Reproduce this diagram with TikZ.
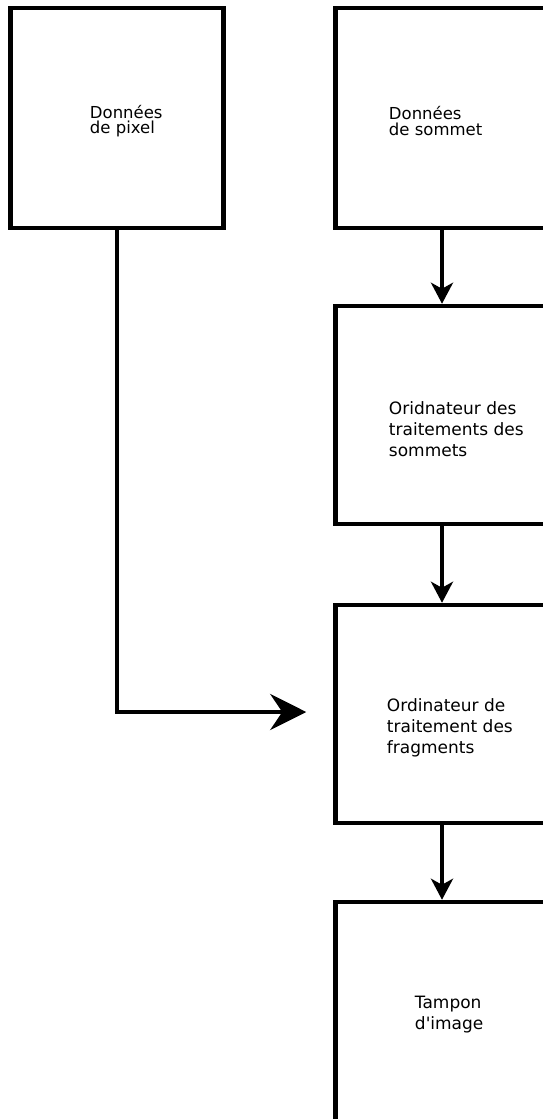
\documentclass[tikz,border=0pt]{standalone}
\usepackage{fontspec}
\setmainfont{DejaVu Sans}
\usetikzlibrary{arrows.meta, positioning}

\tikzset{
    box/.style={draw, line width=4.5pt, minimum width=213pt, minimum height=220pt, inner sep=0pt},
    boxtxt/.style={align=left, anchor=west, inner sep=0pt, font=\fontsize{16.5}{15.5}\selectfont},
    boxtxtlow/.style={boxtxt, font=\fontsize{17}{21}\selectfont},
    flow/.style={line width=4.5pt, -{Stealth[length=21pt, width=22pt, inset=6pt]}},
    bigflow/.style={line width=4.5pt, -{Stealth[length=36pt, width=36pt, inset=12pt]}}
}

\begin{document}
\begin{tikzpicture}[x=1pt, y=-1pt]

            \useasboundingbox (0,0) rectangle (542,1119);

            \node[box] (pix) at (117,118) {};
            \node[box] (vert) at (442,118) {};
            \node[box, minimum height=218pt] (vproc) at (442,415) {};
            \node[box, minimum height=218pt] (fproc) at (442,714) {};
            \node[box] (fbuf) at (442,1012) {};

            \node[boxtxt] (pixtxt) at ([xshift=81.5pt, yshift=-3pt]pix.west) {Données\\de pixel};
            \node[boxtxt] (verttxt) at ([xshift=55.5pt, yshift=-3pt]vert.west) {Données\\de sommet};
            \node[boxtxtlow] (vproctxt) at ([xshift=55.5pt, yshift=-14pt]vproc.west) {Oridnateur des\\traitements des\\sommets};
            \node[boxtxtlow] (fproctxt) at ([xshift=53.5pt, yshift=-14pt]fproc.west) {Ordinateur de\\traitement des\\fragments};
            \node[boxtxtlow] (fbuftxt) at ([xshift=81.5pt, yshift=-3pt]fbuf.west) {Tampon\\d\textquotesingle image};

            \draw[flow] (vert) -- (vproc);
            \draw[flow] (vproc) -- (fproc);
            \draw[flow] (fproc) -- (fbuf);
            \draw[bigflow] (pix.south) |- ([xshift=-27pt, yshift=2pt]fproc.west);

        \end{tikzpicture}
\end{document}
